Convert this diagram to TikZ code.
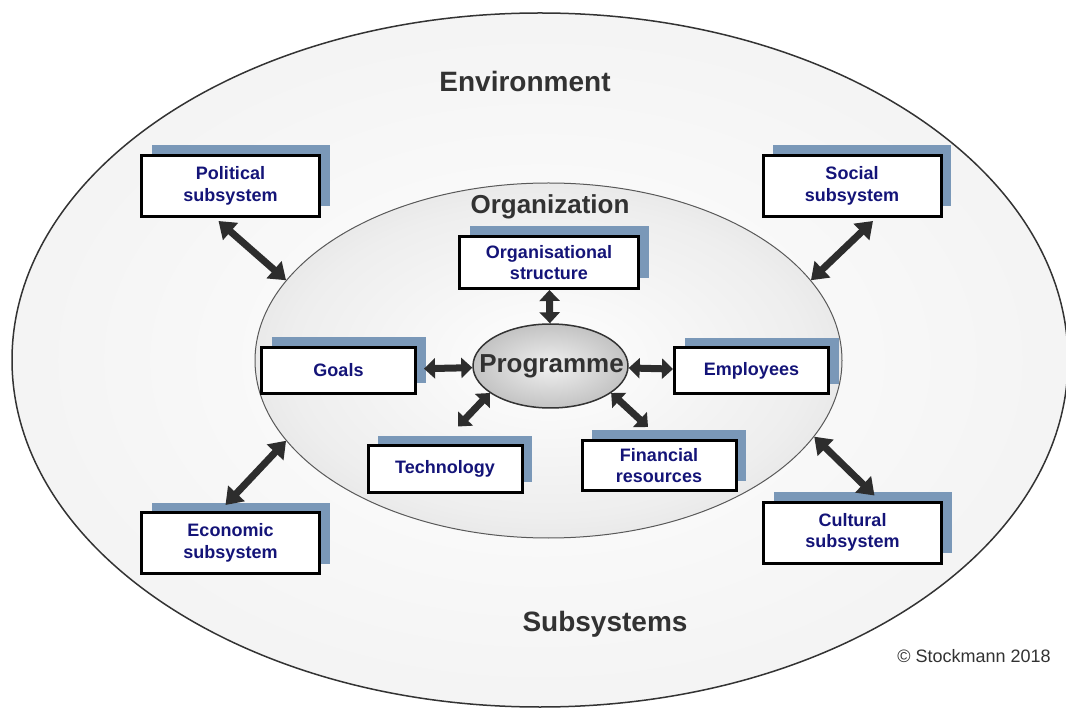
\documentclass[tikz,border=0pt]{standalone}
\usepackage{fontspec}
\setmainfont{Liberation Sans}
\usepackage{tikz}
\usetikzlibrary{positioning,arrows.meta,shapes.geometric,shadows}
\definecolor{boxtext}{RGB}{20,20,120}
\definecolor{shadowblue}{RGB}{122,152,184}
\definecolor{arrowgrey}{RGB}{45,45,45}
\definecolor{titlegrey}{RGB}{50,50,50}
\definecolor{envedge}{RGB}{232,232,232}
\definecolor{orgmid}{RGB}{238,238,238}
\definecolor{orgedge}{RGB}{196,196,196}
\definecolor{progmid}{RGB}{240,240,240}
\definecolor{progedge}{RGB}{150,150,150}
\pgfdeclareradialshading{envshade}{\pgfpoint{0bp}{0bp}}{color(0bp)=(white); color(50bp)=(envedge)}
\pgfdeclareradialshading{orgshade}{\pgfpoint{0bp}{0bp}}{color(0bp)=(white); color(22bp)=(orgmid); color(50bp)=(orgedge)}
\pgfdeclareradialshading{progshade}{\pgfpoint{0bp}{0bp}}{color(0bp)=(progmid); color(50bp)=(progedge)}
\tikzset{
  sysbox/.style={draw=black, line width=3pt, fill=white, text=boxtext, align=center, inner sep=0pt,
    font=\bfseries\fontsize{18}{21.5}\selectfont,
    drop shadow={shadow xshift=10pt, shadow yshift=10pt, fill=shadowblue, opacity=1}},
  widebox/.style={sysbox, minimum width=178pt, minimum height=61pt},
  smallbox/.style={sysbox, minimum width=154pt, minimum height=46pt},
  link/.style={<->, >={Triangle[length=16pt,width=22pt]}, line width=7pt, draw=arrowgrey},
  shortlink/.style={link, >={Triangle[length=11pt,width=20pt]}},
  title/.style={text=titlegrey, font=\bfseries\fontsize{28}{30}\selectfont, anchor=base}
}

\begin{document}
\begin{tikzpicture}[x=1pt,y=-1pt]
  \useasboundingbox (0,0) rectangle (1066,708);
  \clip (0,0) rectangle (1066,708);
  % environment
  \node[ellipse, draw=black!80, line width=1.5pt, shade, shading=envshade, minimum width=1056pt, minimum height=694pt, inner sep=0pt] (env) at (540,360) {};
  \node[title] (envtitle) at (525,92) {Environment};
  \node[title] (subtitle) at (605,631) {Subsystems};
  \node[anchor=base, text=titlegrey, font=\fontsize{18}{20}\selectfont] (copy) at (974,662) {© Stockmann 2018};
  % organization
  \node[ellipse, draw=black!65, line width=1pt, shade, shading=orgshade, minimum width=587pt, minimum height=355pt, inner sep=0pt] (org) at (548.5,360.5) {};
  \node[title, font=\bfseries\fontsize{26}{28}\selectfont] (orgtitle) at (550,214) {Organization};
  \node[ellipse, draw=black!80, line width=1.5pt, shade, shading=progshade, minimum width=155pt, minimum height=84pt, inner sep=0pt] (prog) at (550.5,366) {};
  \node[title, font=\bfseries\fontsize{26}{28}\selectfont] (progtext) at (551.5,373) {Programme};
  % subsystems
  \node[widebox] (pol) at (230.5,186) {Political\\subsystem};
  \node[widebox] (soc) at (852,186) {Social\\subsystem};
  \node[widebox] (eco) at (230.5,543) {Economic\\subsystem};
  \node[widebox] (cul) at (852.5,532.5) {Cultural\\subsystem};
  % parts of the organization
  \node[smallbox, minimum width=179pt, minimum height=52pt] (struct) at (549,262.5) {Organisational\\structure};
  \node[smallbox] (goals) at (338.5,370.5) {Goals};
  \node[smallbox] (emp) at (751.5,371) {Employees};
  \node[smallbox] (tech) at (445,469) {Technology};
  \node[smallbox, minimum height=50pt] (fin) at (659,465.5) {Financial\\resources};
  % links
  \draw[link] ([xshift=-12pt,yshift=-3pt]pol.south) -- (org.163.7);
  \draw[link] ([xshift=21pt,yshift=-3pt]soc.south) -- (org.17);
  \draw[link] ([xshift=-5pt,yshift=6pt]eco.north) -- (org.197.4);
  \draw[link] ([xshift=22pt,yshift=5pt]cul.north) -- (org.344.2);
  \draw[shortlink] (struct) -- (prog);
  \draw[shortlink, shorten <=7pt] (goals) -- (prog);
  \draw[shortlink] (prog) -- (emp);
  \draw[shortlink] ([xshift=13pt,yshift=18pt]tech.north) -- (prog.204.8);
  \draw[shortlink] ([xshift=-11pt,yshift=12pt]fin.north) -- (prog.336.6);
\end{tikzpicture}
\end{document}
